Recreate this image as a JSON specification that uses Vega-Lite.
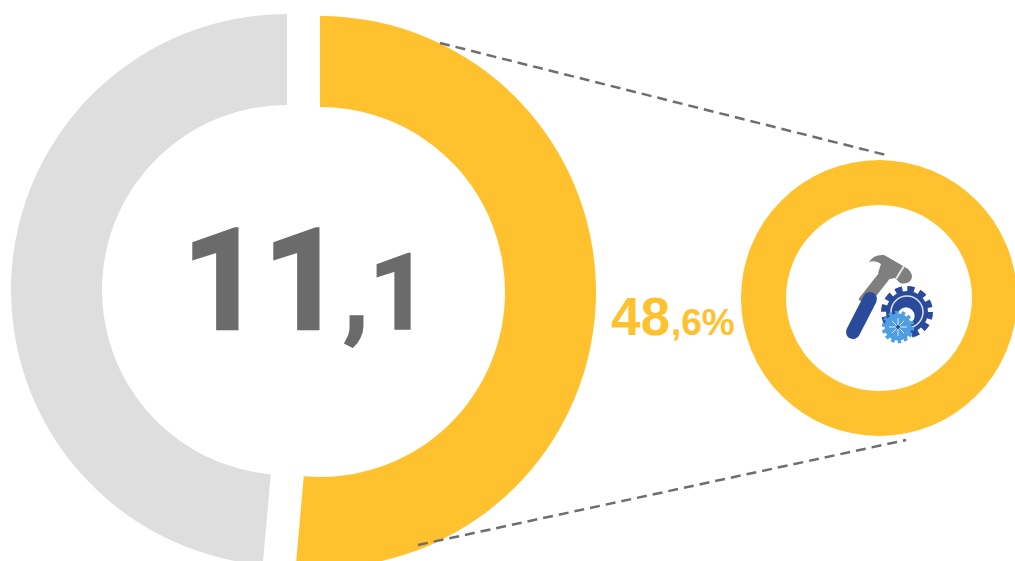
{"$schema":"https://vega.github.io/schema/vega-lite/v6.json","width":1015,"height":561,"padding":0,"autosize":{"type":"none"},"background":"white","view":{"stroke":null},
"encoding":{"x":{"field":"anchor","type":"quantitative","axis":null,"scale":{"zero":false,"nice":false,"domain":[1,2,3,4,5,6,7,8,9,10,11,12,13,14,15,16,17,18,19,20,21,22,23,24,25,26,27,28,29],"range":[287,320,879,440,886,418,906,182,343,611,671,890,885,863,870,853,904,896,907,898,898,898,889,907,892,904,892,904,906]}},"y":{"field":"anchor","type":"quantitative","axis":null,"scale":{"zero":false,"nice":false,"domain":[1,2,3,4,5,6,7,8,9,10,11,12,13,14,15,16,17,18,19,20,21,22,23,24,25,26,27,28,29],"range":[290,292,298,43,155,545,440,329,329,335,335,267,275,303,299,332,266,279,312,327,318,336,327,327,321,333,333,321,316]}}},
"layer":[
{"data":{"values":[{"segment":"Remaining","anchor":1,"start":51.4,"end":100}]},"mark":{"type":"arc","innerRadius":185,"outerRadius":276,"fill":"#DEDEDE"},"encoding":{"theta":{"field":"start","type":"quantitative","scale":{"domain":[0,100]}},"theta2":{"field":"end"}}},
{"data":{"values":[{"segment":"Highlighted","anchor":2,"start":0,"end":51.4}]},"mark":{"type":"arc","innerRadius":185,"outerRadius":276,"fill":"#FFC22E"},"encoding":{"theta":{"field":"start","type":"quantitative","scale":{"domain":[0,100]}},"theta2":{"field":"end"}}},
{"data":{"values":[{"segment":"Detail","anchor":3,"start":0,"end":100}]},"mark":{"type":"arc","innerRadius":93,"outerRadius":138,"fill":"#FFC22E"},"encoding":{"theta":{"field":"start","type":"quantitative","scale":{"domain":[0,100]}},"theta2":{"field":"end"}}},
{"data":{"values":[{"connector":"upper","anchor":4,"anchor2":5},{"connector":"lower","anchor":6,"anchor2":7}]},"mark":{"type":"rule","stroke":"#6E6E6E","strokeWidth":2.5,"strokeDash":[10,6]},"encoding":{"x2":{"field":"anchor2"},"y2":{"field":"anchor2"}}},
{"data":{"values":[{"label":"11","anchor":8}]},"mark":{"type":"text","font":"Roboto","fontWeight":"bold","fontSize":141,"fill":"#6B6B6B","stroke":"#6B6B6B","strokeWidth":2.5,"align":"left","baseline":"alphabetic"},"encoding":{"text":{"field":"label"}}},
{"data":{"values":[{"label":",1","anchor":9}]},"mark":{"type":"text","font":"Roboto","fontWeight":"bold","fontSize":105,"fill":"#6B6B6B","stroke":"#6B6B6B","strokeWidth":1.5,"align":"left","baseline":"alphabetic"},"encoding":{"text":{"field":"label"}}},
{"data":{"values":[{"label":"48","anchor":10}]},"mark":{"type":"text","font":"Liberation Sans","fontWeight":"bold","fontSize":53,"fill":"#FFC22E","align":"left","baseline":"alphabetic"},"encoding":{"text":{"field":"label"}}},
{"data":{"values":[{"label":",6%","anchor":11}]},"mark":{"type":"text","font":"Liberation Sans","fontWeight":"bold","fontSize":37,"fill":"#FFC22E","align":"left","baseline":"alphabetic"},"encoding":{"text":{"field":"label"}}},
{"data":{"values":[{"part":"handle","anchor":13,"anchor2":14}]},"mark":{"type":"rule","stroke":"#7F7F7F","strokeWidth":12},"encoding":{"x2":{"field":"anchor2"},"y2":{"field":"anchor2"}}},
{"data":{"values":[{"part":"head","anchor":12}]},"mark":{"type":"point","filled":true,"opacity":1,"fill":"#7F7F7F","stroke":null,"size":4,"shape":"M-21 -5 Q-16 -13 -6 -12 L8 -4 L18 2 Q24 8 21 13 Q17 18 10 16 L5 11 L0 12 L-12 6 L-9 -3 Q-14 -7 -21 -5 Z"}},
{"data":{"values":[{"part":"slit","anchor":17,"anchor2":18}]},"mark":{"type":"rule","stroke":"#E8E8E8","strokeWidth":2},"encoding":{"x2":{"field":"anchor2"},"y2":{"field":"anchor2"}}},
{"data":{"values":[{"part":"grip","anchor":15,"anchor2":16}]},"mark":{"type":"rule","stroke":"#2A4A9C","strokeWidth":14,"strokeCap":"round"},"encoding":{"x2":{"field":"anchor2"},"y2":{"field":"anchor2"}}},
{"data":{"values":[{"part":"gear teeth","anchor":19}]},"mark":{"type":"point","filled":false,"opacity":1,"shape":"circle","stroke":"#2A4A9C","strokeWidth":6,"strokeDash":[7,5],"size":2116}},
{"data":{"values":[{"part":"gear body","anchor":19}]},"mark":{"type":"point","filled":true,"opacity":1,"shape":"circle","fill":"#2A4A9C","stroke":null,"size":1764}},
{"data":{"values":[{"part":"gear ring","anchor":19}]},"mark":{"type":"point","filled":false,"opacity":1,"shape":"circle","stroke":"#DCE3F2","strokeWidth":1.5,"size":1024}},
{"data":{"values":[{"part":"gear hole","anchor":29}]},"mark":{"type":"point","filled":true,"opacity":1,"shape":"circle","fill":"#FFFFFF","stroke":null,"size":300}},
{"data":{"values":[{"part":"small teeth","anchor":20}]},"mark":{"type":"point","filled":false,"opacity":1,"shape":"circle","stroke":"#4F9FE0","strokeWidth":3.5,"strokeDash":[3.5,3],"size":841}},
{"data":{"values":[{"part":"small body","anchor":20}]},"mark":{"type":"point","filled":true,"opacity":1,"shape":"circle","fill":"#4F9FE0","stroke":null,"size":729}},
{"data":{"values":[{"part":"spoke","anchor":21,"anchor2":22},{"part":"spoke","anchor":23,"anchor2":24},{"part":"spoke","anchor":25,"anchor2":26},{"part":"spoke","anchor":27,"anchor2":28}]},"mark":{"type":"rule","stroke":"#DCEBFA","strokeWidth":1},"encoding":{"x2":{"field":"anchor2"},"y2":{"field":"anchor2"}}},
{"data":{"values":[{"part":"small hub","anchor":20}]},"mark":{"type":"point","filled":true,"opacity":1,"shape":"circle","fill":"#2A4A9C","stroke":null,"size":16}}
]}
